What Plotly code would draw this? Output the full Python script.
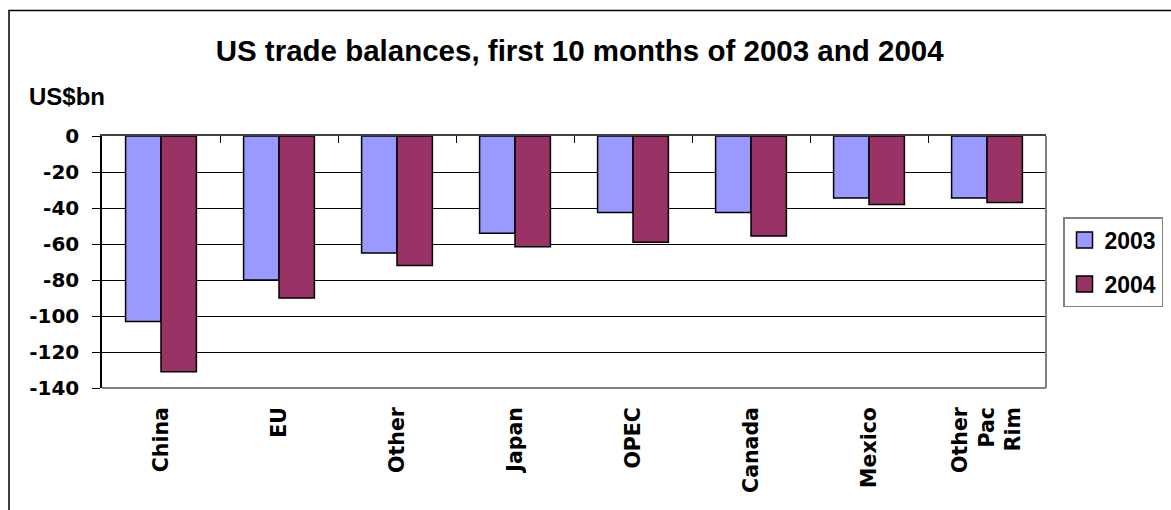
import plotly.graph_objects as go

categories = ["China", "EU", "Other", "Japan", "OPEC", "Canada", "Mexico", "Other<br>Pac<br>Rim"]
series_names = ["2003", "2004"]
values_2003 = [-103, -80, -65, -54, -42.5, -42.5, -34.5, -34.5]
values_2004 = [-131, -90, -72, -61.5, -59, -55.5, -38, -37]
y_ticks = [0, -20, -40, -60, -80, -100, -120, -140]
y_tick_labels = ["0", "-20", "-40", "-60", "-80", "-100", "-120", "-140"]
colors = ["#9999FF", "#993366"]

ARIAL = "Liberation Sans, Arial, sans-serif"
DEJAVU = "DejaVu Sans, sans-serif"

fig = go.Figure()
for name, vals, col in zip(series_names, [values_2003, values_2004], colors):
    fig.add_trace(go.Bar(
        x=categories, y=vals, name=name, showlegend=False,
        marker=dict(color=col, line=dict(color="black", width=1.5)),
    ))
# legend entries with larger square symbols
for name, col in zip(series_names, colors):
    fig.add_trace(go.Scatter(
        x=[None], y=[None], mode="markers", name=name, legendgroup=name,
        marker=dict(symbol="square", size=16, color=col, line=dict(color="black", width=1.5)),
    ))
# helper trace for the top category-boundary ticks
fig.add_trace(go.Scatter(x=[None], y=[None], xaxis="x2", showlegend=False, hoverinfo="skip"))

n = len(categories)
fig.update_layout(
    width=1171, height=510,
    margin=dict(l=102, r=125, t=136, b=122, autoexpand=False),
    paper_bgcolor="white", plot_bgcolor="white",
    bargap=0.4, bargroupgap=0, barmode="group",
    title=dict(text="US trade balances, first 10 months of 2003 and 2004",
               font=dict(family=ARIAL, size=29.5, color="black", weight="bold"),
               x=0.495, xanchor="center", y=1 - 51 / 510, yanchor="middle", yref="container"),
    xaxis=dict(type="category", range=[-0.5, n - 0.5], showline=False, ticks="",
               tickangle=-90, showgrid=False, ticklabelstandoff=14,
               tickfont=dict(family=DEJAVU, size=20.5, color="black", weight="bold")),
    xaxis2=dict(overlaying="x", side="top", anchor="y", range=[-0.5, n - 0.5],
                tickvals=[i + 0.5 for i in range(n - 1)], ticks="inside", ticklen=7,
                tickcolor="black", tickwidth=1, showticklabels=False, showgrid=False,
                showline=True, linecolor="#404040", linewidth=2, zeroline=False),
    yaxis=dict(range=[-140, 0], tickvals=y_ticks, ticktext=y_tick_labels,
               showgrid=True, gridcolor="black", gridwidth=1,
               showline=True, linecolor="black", linewidth=1.5, ticks="outside", ticklen=8,
               tickcolor="black", zeroline=False, ticklabelstandoff=9,
               tickfont=dict(family=DEJAVU, size=20, color="black", weight="bold")),
    legend=dict(x=(1063 - 102) / 944, y=0.678, xanchor="left", yanchor="top",
                bordercolor="#808080", borderwidth=1.5, bgcolor="white",
                tracegroupgap=11, itemwidth=30,
                font=dict(family=ARIAL, size=23, color="black", weight="bold")),
    annotations=[dict(text="US$bn", xref="paper", yref="paper",
                      x=(27 - 102) / 944, y=(388.3 - 96) / 252.6, xanchor="left", yanchor="middle",
                      showarrow=False,
                      font=dict(family=ARIAL, size=24, color="black", weight="bold"))],
    shapes=[
        dict(type="line", xref="paper", yref="paper", x0=1, x1=1, y0=0, y1=1,
             line=dict(color="#808080", width=2), layer="above"),
        dict(type="line", xref="paper", yref="paper", x0=0, x1=1, y0=0, y1=0,
             line=dict(color="#808080", width=2), layer="above"),
        dict(type="rect", xref="paper", yref="paper",
             x0=(9 - 102) / 944, x1=(1180 - 102) / 944,
             y0=(388.3 - 520) / 252.6, y1=(388.3 - 10) / 252.6,
             line=dict(color="black", width=1.5), fillcolor="rgba(0,0,0,0)", layer="below"),
    ],
)
fig.write_html("out.html")
